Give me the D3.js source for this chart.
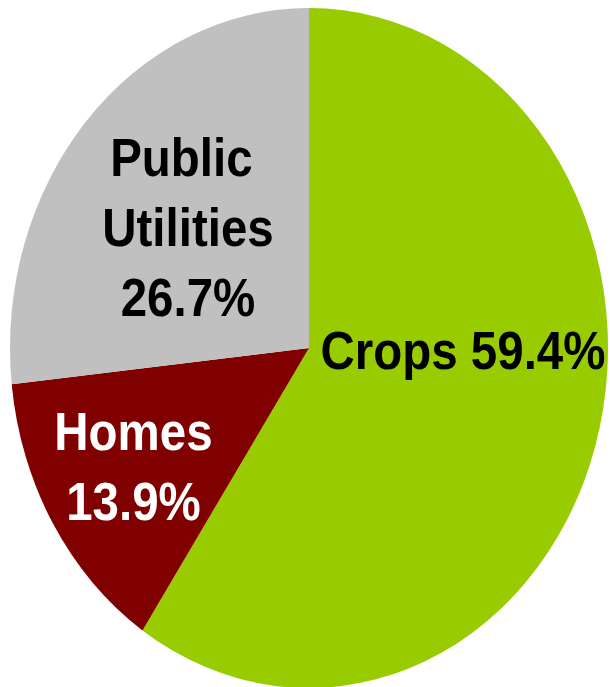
<!DOCTYPE html>
<html>
<head>
<meta charset="utf-8">
<script src="https://cdn.jsdelivr.net/npm/d3@7"></script>
<style>
  html, body { margin: 0; padding: 0; background: #ffffff; }
  svg { display: block; }
  text { font-family: "Liberation Sans", Arial, Helvetica, sans-serif; font-weight: bold; }
  tspan { white-space: pre; }
</style>
</head>
<body>
<svg id="chart" width="610" height="687"></svg>
<script>
// Land use shares (percent)
const categories = ["Crops", "Homes", "Public Utilities"];
const values = [59.4, 13.9, 26.7];
const palette = ["#99cc00", "#800000", "#c0c0c0"];
const labelColors = ["#000000", "#ffffff", "#000000"];
const labelLines = [["Crops 59.4%"], ["Homes", "13.9%"], ["Public ", "Utilities", "26.7%"]];

const width = 610, height = 687;
const cx = 309, cy = 348;
const R = 340;               // vertical radius
const squash = 299 / 340;    // horizontal squeeze of the pie
const fontSize = 54, lineH = 70;

// label placement: angle shift from slice middle (deg) and radius fraction
const labelShift = [-16.3, 0.7, -0.5];
const labelRadius = [0.515, 0.681, 0.54];

const svg = d3.select("#chart");
const g = svg.append("g")
  .attr("transform", `translate(${cx},${cy}) scale(${squash},1)`);

const pie = d3.pie().sort(null).value(d => d.value).startAngle(0).endAngle(2 * Math.PI);
const data = categories.map((c, i) => ({ name: c, value: values[i], i }));
const arcs = pie(data);

const arc = d3.arc().innerRadius(0).outerRadius(R);

g.selectAll("path.slice")
  .data(arcs)
  .join("path")
  .attr("class", "slice")
  .attr("d", arc)
  .attr("fill", d => palette[d.data.i]);

// labels
arcs.forEach(d => {
  const i = d.data.i;
  const mid = (d.startAngle + d.endAngle) / 2 + labelShift[i] * Math.PI / 180;
  const r = R * labelRadius[i];
  const x = r * Math.sin(mid);
  const y = -r * Math.cos(mid);
  const lines = labelLines[i];
  const n = lines.length;
  const t = g.append("text")
    .attr("text-anchor", "middle")
    .attr("fill", labelColors[i])
    .attr("font-size", fontSize);
  lines.forEach((ln, k) => {
    t.append("tspan")
      .attr("x", x)
      .attr("y", y + (k - (n - 1) / 2) * lineH + 0.36 * fontSize)
      .text(ln);
  });
});
</script>
</body>
</html>
